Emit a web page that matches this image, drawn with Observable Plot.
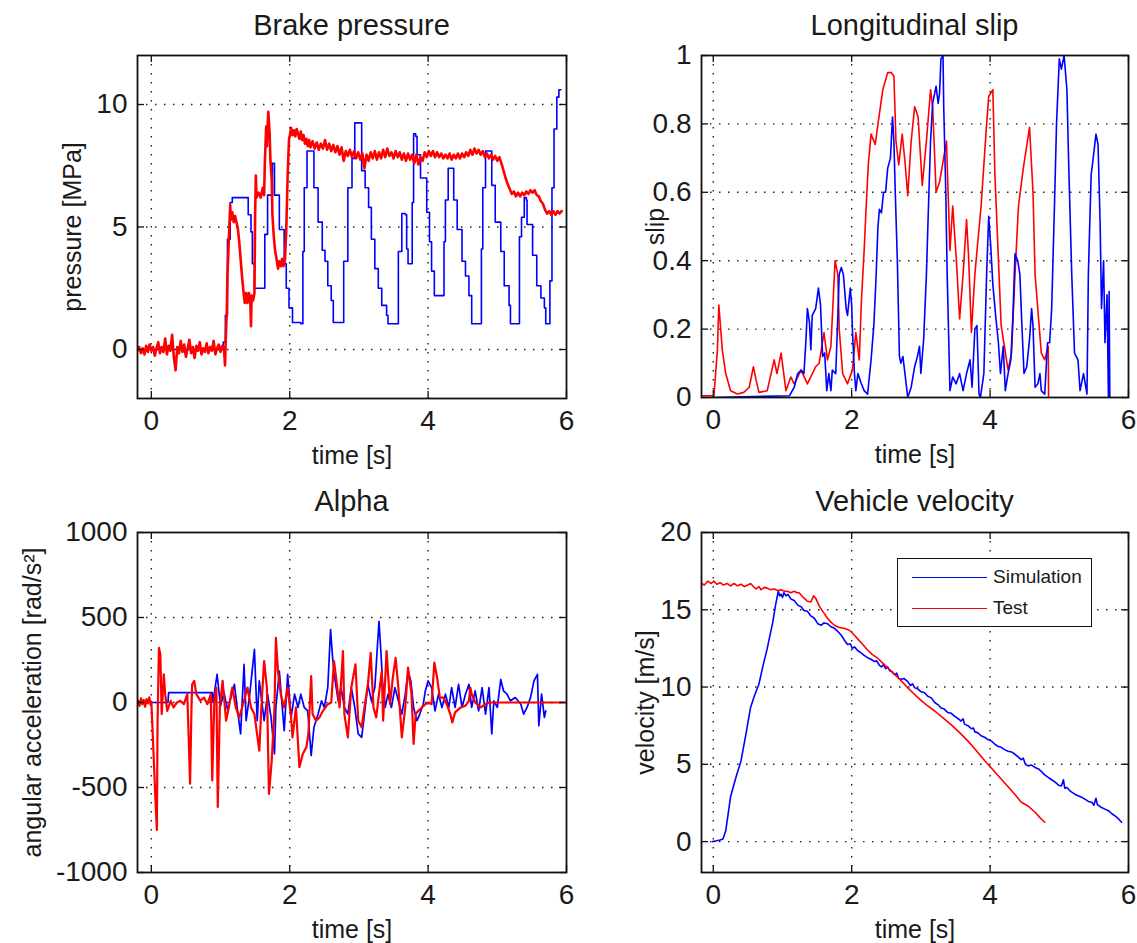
<!DOCTYPE html>
<html><head><meta charset="utf-8">
<script src="https://cdn.jsdelivr.net/npm/d3@7"></script>
<script src="https://cdn.jsdelivr.net/npm/@observablehq/plot@0.6"></script>
<style>
body{margin:0;background:#fff;width:1137px;height:943px;position:relative;overflow:hidden;font-family:Arial,"Liberation Sans",sans-serif;color:#1a1a1a}
.panel{position:absolute}
.title{position:absolute;font-size:29px;line-height:29px;white-space:nowrap;transform:translateX(-50%)}
.legend{position:absolute;left:897px;top:558px;width:193px;height:67px;border:1.8px solid #111;background:#fff}
.legend .ln{position:absolute;left:14px;width:75px;height:0;border-top:1.6px solid}
.legend .lt{position:absolute;left:95px;font-size:19px;line-height:19px}
</style>
</head><body>
<script>
// ---------- tick values ----------
const timeTicks = [0, 2, 4, 6];
const pressureTicks = [0, 5, 10];
const slipTicks = [0, 0.2, 0.4, 0.6, 0.8, 1];
const alphaTicks = [-1000, -500, 0, 500, 1000];
const velocityTicks = [0, 5, 10, 15, 20];
const seriesNames = ["Simulation", "Test"];

// ---------- Brake pressure [MPa] ----------
const brakeSim = [[0,0],[1.00,0],[1.04,0.3],[1.07,1.4],[1.09,1.4],[1.10,4.5],[1.14,6.0],[1.17,6.2],[1.38,6.2],[1.40,5.5],[1.44,4.8],[1.46,3.5],[1.49,2.5],[1.63,2.5],[1.64,4.7],[1.68,6.3],[1.70,6.3],[1.75,7.6],[1.78,6.3],[1.85,4.9],[1.92,3.5],[1.95,2.5],[1.99,1.7],[2.04,1.1],[2.16,1.05],[2.19,4.0],[2.21,6.6],[2.25,8.1],[2.33,8.1],[2.35,6.6],[2.41,5.2],[2.47,4.05],[2.51,3.6],[2.55,2.6],[2.60,2.0],[2.63,1.1],[2.77,1.1],[2.78,3.6],[2.84,6.6],[2.90,7.8],[2.94,9.25],[3.02,9.25],[3.04,7.3],[3.09,6.6],[3.14,5.8],[3.18,4.5],[3.23,3.3],[3.28,2.5],[3.33,1.8],[3.40,1.4],[3.42,1.05],[3.56,1.05],[3.57,4.0],[3.62,5.55],[3.67,5.5],[3.69,4.1],[3.71,3.5],[3.76,3.5],[3.77,6.0],[3.79,8.8],[3.82,8.7],[3.84,7.95],[3.89,7.0],[3.98,5.6],[4.02,4.4],[4.05,3.2],[4.09,2.2],[4.22,2.2],[4.23,4.4],[4.25,6.1],[4.29,7.4],[4.35,7.4],[4.37,6.1],[4.42,4.9],[4.49,3.6],[4.54,3.0],[4.59,2.2],[4.63,1.05],[4.76,1.05],[4.77,4.1],[4.79,6.6],[4.83,8.1],[4.90,8.1],[4.92,6.7],[4.97,5.2],[5.05,4.0],[5.10,2.6],[5.17,1.8],[5.19,1.05],[5.31,1.05],[5.32,4.6],[5.35,5.4],[5.39,6.2],[5.42,6.1],[5.43,5.1],[5.51,3.85],[5.57,2.6],[5.63,2.1],[5.68,1.7],[5.70,1.05],[5.75,1.05],[5.76,2.8],[5.79,6.6],[5.82,9.0],[5.86,10.3],[5.89,10.6],[5.92,10.6]];
const brakeTest = [[-0.2,-0.05],[-0.175,0.10],[-0.15,-0.15],[-0.125,0.05],[-0.1,-0.20],[-0.075,0.15],[-0.05,-0.10],[-0.025,0.20],[0,-0.05],[0.025,0.10],[0.05,-0.25],[0.075,0.05],[0.1,0.30],[0.125,-0.15],[0.15,0.10],[0.175,-0.10],[0.2,0.45],[0.225,-0.20],[0.25,0.15],[0.275,-0.05],[0.3,0.60],[0.325,-0.30],[0.35,-0.85],[0.375,0.10],[0.4,-0.15],[0.425,0.35],[0.45,-0.10],[0.475,0.20],[0.5,-0.30],[0.525,0.05],[0.55,0.40],[0.575,-0.15],[0.6,0.10],[0.625,-0.35],[0.65,0.15],[0.675,-0.05],[0.7,0.30],[0.725,-0.20],[0.75,0.05],[0.775,-0.10],[0.8,0.25],[0.825,-0.15],[0.85,0.10],[0.875,-0.05],[0.9,0.35],[0.925,-0.20],[0.95,0.05],[0.975,0.20],[1.0,-0.10],[1.025,0.15],[1.05,0.05],[1.065,-0.65],[1.075,0.4],[1.09,1.5],[1.10,3.0],[1.12,4.5],[1.14,5.9],[1.15,5.3],[1.17,5.6],[1.19,5.2],[1.21,5.45],[1.23,5.2],[1.25,4.95],[1.27,4.4],[1.29,3.7],[1.31,3.0],[1.33,2.4],[1.35,1.9],[1.37,2.3],[1.39,1.9],[1.41,2.3],[1.43,2.0],[1.44,0.95],[1.45,2.2],[1.47,2.0],[1.49,2.3],[1.50,5.5],[1.51,7.1],[1.52,6.2],[1.55,6.4],[1.58,6.2],[1.61,6.6],[1.63,6.3],[1.64,7.6],[1.66,9.1],[1.67,8.3],[1.69,9.7],[1.71,8.8],[1.72,7.8],[1.74,6.9],[1.75,5.5],[1.77,4.6],[1.79,4.0],[1.81,3.7],[1.83,3.3],[1.85,3.6],[1.87,3.4],[1.89,3.7],[1.91,3.4],[1.93,3.6],[1.95,4.9],[1.97,7.1],[1.99,8.6],[2.00,8.70],[2.02,9.05],[2.04,8.75],[2.06,8.95],[2.08,8.70],[2.10,9.00],[2.12,8.80],[2.14,8.60],[2.16,8.90],[2.18,8.55],[2.20,8.75],[2.22,8.40],[2.24,8.60],[2.26,8.30],[2.28,8.55],[2.30,8.25],[2.33,8.50],[2.36,8.20],[2.39,8.45],[2.42,8.15],[2.45,8.40],[2.48,8.20],[2.51,8.55],[2.54,8.15],[2.57,8.40],[2.60,8.10],[2.63,8.35],[2.66,8.05],[2.69,8.30],[2.72,7.95],[2.75,8.25],[2.78,7.70],[2.81,8.10],[2.84,7.90],[2.87,8.15],[2.90,7.85],[2.93,8.10],[2.96,7.80],[2.99,8.05],[3.02,7.75],[3.05,8.00],[3.08,7.40],[3.11,7.95],[3.14,7.70],[3.17,8.05],[3.20,7.80],[3.23,8.10],[3.26,7.75],[3.29,8.05],[3.32,7.80],[3.35,8.15],[3.38,7.85],[3.41,8.20],[3.44,7.90],[3.47,8.05],[3.50,7.80],[3.53,8.10],[3.56,7.85],[3.59,8.05],[3.62,7.75],[3.65,8.00],[3.68,7.70],[3.71,8.00],[3.74,7.75],[3.77,7.95],[3.80,7.60],[3.83,7.95],[3.86,7.55],[3.89,7.85],[3.92,7.70],[3.95,8.05],[3.98,7.85],[4.01,8.10],[4.04,7.90],[4.07,8.10],[4.10,7.85],[4.13,8.05],[4.16,7.85],[4.19,8.00],[4.22,7.80],[4.25,7.95],[4.28,7.80],[4.31,8.00],[4.34,7.75],[4.37,7.95],[4.40,7.80],[4.43,8.00],[4.46,7.80],[4.49,8.00],[4.52,7.85],[4.55,8.05],[4.58,7.90],[4.61,8.15],[4.64,7.95],[4.67,8.20],[4.70,8.00],[4.73,8.15],[4.76,7.95],[4.79,8.10],[4.82,7.85],[4.85,8.00],[4.88,7.80],[4.91,7.95],[4.94,7.75],[4.97,7.90],[5.00,7.70],[5.03,7.85],[5.06,7.60],[5.09,7.30],[5.12,7.00],[5.15,6.75],[5.18,6.55],[5.21,6.35],[5.24,6.45],[5.27,6.25],[5.30,6.40],[5.33,6.25],[5.36,6.40],[5.39,6.30],[5.42,6.45],[5.45,6.35],[5.48,6.50],[5.51,6.40],[5.54,6.50],[5.57,6.30],[5.60,6.25],[5.63,6.05],[5.66,5.95],[5.69,5.70],[5.72,5.55],[5.75,5.65],[5.78,5.50],[5.81,5.65],[5.84,5.50],[5.87,5.65],[5.90,5.55],[5.93,5.65]];

// ---------- Longitudinal slip [-] ----------
const slipTest = [[-0.18,0.005],[0.01,0.005],[0.06,0.14],[0.08,0.27],[0.10,0.22],[0.13,0.14],[0.18,0.07],[0.25,0.02],[0.35,0.01],[0.44,0.015],[0.52,0.03],[0.58,0.09],[0.62,0.05],[0.66,0.015],[0.78,0.02],[0.88,0.11],[0.92,0.07],[0.98,0.13],[1.05,0.02],[1.12,0.06],[1.17,0.04],[1.27,0.08],[1.36,0.04],[1.48,0.09],[1.53,0.10],[1.60,0.19],[1.65,0.11],[1.70,0.15],[1.76,0.40],[1.80,0.36],[1.82,0.20],[1.87,0.07],[1.94,0.04],[2.01,0.08],[2.06,0.19],[2.11,0.11],[2.14,0.28],[2.18,0.43],[2.21,0.56],[2.24,0.68],[2.28,0.77],[2.34,0.74],[2.38,0.80],[2.45,0.90],[2.52,0.95],[2.57,0.95],[2.61,0.94],[2.64,0.75],[2.68,0.68],[2.73,0.77],[2.77,0.69],[2.81,0.59],[2.86,0.75],[2.91,0.85],[2.96,0.82],[3.02,0.62],[3.08,0.75],[3.14,0.90],[3.17,0.85],[3.22,0.60],[3.27,0.63],[3.37,0.75],[3.42,0.43],[3.46,0.56],[3.51,0.41],[3.56,0.23],[3.61,0.36],[3.66,0.52],[3.69,0.41],[3.73,0.19],[3.78,0.36],[3.87,0.56],[3.95,0.80],[3.98,0.88],[4.04,0.90],[4.07,0.65],[4.16,0.21],[4.26,0.08],[4.31,0.13],[4.36,0.36],[4.41,0.56],[4.48,0.67],[4.57,0.79],[4.62,0.60],[4.65,0.36],[4.74,0.13],[4.79,0.11],[4.84,0.15],[4.845,0]];
const slipSim = [[0,0],[1.10,0.005],[1.17,0.03],[1.22,0.07],[1.27,0.08],[1.31,0.07],[1.34,0.17],[1.36,0.26],[1.39,0.22],[1.41,0.14],[1.43,0.24],[1.48,0.26],[1.52,0.32],[1.55,0.27],[1.58,0.12],[1.61,0.13],[1.64,0.02],[1.67,0.07],[1.70,0.02],[1.72,0.08],[1.77,0.07],[1.80,0.24],[1.82,0.36],[1.85,0.38],[1.88,0.36],[1.92,0.26],[1.94,0.24],[1.98,0.32],[2.00,0.27],[2.01,0.20],[2.04,0.07],[2.06,0.02],[2.09,0.07],[2.14,0.04],[2.18,0.02],[2.23,0.01],[2.28,0.11],[2.32,0.21],[2.35,0.34],[2.38,0.50],[2.40,0.55],[2.43,0.54],[2.46,0.60],[2.49,0.60],[2.52,0.67],[2.56,0.70],[2.59,0.82],[2.61,0.75],[2.63,0.60],[2.66,0.40],[2.69,0.12],[2.71,0.10],[2.74,0.12],[2.77,0.07],[2.81,0],[2.86,0.03],[2.91,0.09],[2.95,0.12],[2.98,0.15],[3.00,0.07],[3.04,0.17],[3.08,0.36],[3.11,0.56],[3.14,0.75],[3.17,0.86],[3.20,0.89],[3.22,0.91],[3.25,0.86],[3.27,0.89],[3.29,0.99],[3.32,1.0],[3.33,0.85],[3.36,0.60],[3.38,0.36],[3.42,0.02],[3.46,0.06],[3.51,0.04],[3.56,0.07],[3.61,0.02],[3.66,0.07],[3.71,0.11],[3.74,0.03],[3.78,0.20],[3.81,0.21],[3.84,0.01],[3.86,0],[3.91,0.07],[3.95,0.36],[3.98,0.53],[4.01,0.44],[4.04,0.33],[4.08,0.24],[4.12,0.16],[4.15,0.07],[4.19,0.15],[4.22,0.02],[4.26,0.07],[4.30,0.11],[4.33,0.24],[4.36,0.42],[4.40,0.40],[4.43,0.36],[4.46,0.21],[4.49,0.07],[4.53,0.09],[4.57,0.17],[4.60,0.26],[4.62,0.21],[4.65,0.03],[4.69,0.04],[4.72,0.07],[4.74,0.02],[4.79,0.01],[4.83,0.16],[4.86,0.16],[4.89,0.26],[4.93,0.56],[4.96,0.80],[5.00,0.99],[5.03,0.96],[5.07,1.0],[5.11,0.90],[5.14,0.65],[5.18,0.36],[5.22,0.13],[5.27,0.11],[5.30,0.02],[5.35,0.07],[5.40,0.01],[5.42,0.36],[5.46,0.65],[5.49,0.70],[5.53,0.77],[5.56,0.74],[5.59,0.51],[5.61,0.26],[5.64,0.40],[5.66,0.16],[5.69,0.30],[5.71,0],[5.72,0.31],[5.73,0]];

// ---------- Alpha: angular acceleration [rad/s^2] ----------
const alphaSim = [[0,0],[0.24,0],[0.25,58],[0.88,58],[0.89,0],[0.95,166],[1.00,-20],[1.05,60],[1.10,-40],[1.15,30],[1.20,107],[1.25,-60],[1.29,-185],[1.34,224],[1.37,-107],[1.42,40],[1.49,312],[1.53,-107],[1.56,127],[1.63,-107],[1.68,49],[1.73,-88],[1.78,-302],[1.80,-29],[1.85,185],[1.92,-166],[1.97,166],[2.02,-88],[2.07,49],[2.12,-29],[2.16,49],[2.21,-29],[2.26,-49],[2.31,-312],[2.35,-146],[2.41,-68],[2.46,10],[2.50,-29],[2.55,88],[2.59,429],[2.62,263],[2.65,146],[2.70,10],[2.74,88],[2.79,-29],[2.84,-68],[2.89,88],[2.94,-29],[2.99,-185],[3.04,-205],[3.08,-68],[3.13,107],[3.18,10],[3.23,88],[3.29,478],[3.32,283],[3.34,127],[3.38,-29],[3.42,49],[3.47,-29],[3.52,88],[3.57,10],[3.62,-68],[3.67,49],[3.71,185],[3.75,127],[3.79,-29],[3.84,-107],[3.88,-68],[3.93,-10],[3.96,68],[4.00,127],[4.05,88],[4.10,-49],[4.15,49],[4.20,-29],[4.25,49],[4.30,-29],[4.34,88],[4.39,-29],[4.44,107],[4.49,-29],[4.54,49],[4.59,107],[4.63,-29],[4.68,68],[4.73,-49],[4.78,88],[4.83,-68],[4.88,88],[4.92,-185],[4.95,10],[5.00,-29],[5.05,136],[5.09,68],[5.14,49],[5.19,10],[5.26,29],[5.34,-10],[5.38,-68],[5.43,-29],[5.48,29],[5.53,127],[5.58,166],[5.60,-137],[5.64,49],[5.68,-88],[5.70,-49]];
const alphaTest = [[-0.19,10],[-0.17,-20],[-0.15,25],[-0.13,-10],[-0.11,15],[-0.09,-25],[-0.07,20],[-0.05,-5],[-0.03,30],[-0.01,-15],[0.0,5],[0.01,-88],[0.06,-575],[0.08,-750],[0.09,-107],[0.11,322],[0.13,283],[0.15,-68],[0.18,166],[0.20,49],[0.23,-49],[0.28,10],[0.32,-29],[0.37,0],[0.42,10],[0.47,-10],[0.52,49],[0.56,-478],[0.58,-29],[0.59,107],[0.62,127],[0.65,49],[0.71,10],[0.76,29],[0.81,-10],[0.86,49],[0.88,-458],[0.91,10],[0.94,88],[0.96,-614],[0.99,-29],[1.03,127],[1.08,-107],[1.12,-29],[1.17,88],[1.22,-29],[1.27,-88],[1.34,10],[1.39,88],[1.44,-29],[1.49,-68],[1.56,-283],[1.59,-29],[1.63,244],[1.67,88],[1.70,-537],[1.74,-341],[1.78,-29],[1.80,380],[1.83,185],[1.87,49],[1.92,-29],[1.97,88],[2.02,-88],[2.04,-205],[2.09,-29],[2.14,-380],[2.19,-302],[2.24,-263],[2.27,-185],[2.31,156],[2.33,-68],[2.38,-107],[2.43,-88],[2.48,-49],[2.55,-10],[2.60,0],[2.64,244],[2.67,146],[2.72,-29],[2.77,302],[2.79,-68],[2.84,-205],[2.89,88],[2.95,224],[2.99,-107],[3.04,-146],[3.08,-29],[3.13,107],[3.17,292],[3.21,-29],[3.25,-88],[3.29,49],[3.33,185],[3.35,-107],[3.40,302],[3.45,-10],[3.49,146],[3.53,263],[3.57,88],[3.62,-205],[3.67,-29],[3.71,205],[3.76,49],[3.79,-244],[3.82,-68],[3.86,-49],[3.91,-29],[3.96,-10],[4.00,0],[4.05,-10],[4.09,234],[4.13,146],[4.17,29],[4.22,29],[4.27,-10],[4.32,-68],[4.35,-117],[4.39,-58],[4.47,-29],[4.54,-19],[4.59,10],[4.61,88],[4.63,49],[4.68,0],[4.76,-29],[4.83,-10],[4.88,0],[6.0,0]];

// ---------- Vehicle velocity [m/s] ----------
const velocitySim = [[-0.01,0],[0.05,0.05],[0.10,0.1],[0.14,0.17],[0.18,0.7],[0.25,2.9],[0.33,4.2],[0.40,5.2],[0.47,6.9],[0.54,8.7],[0.60,9.5],[0.66,10.2],[0.72,11.4],[0.78,12.5],[0.86,14.2],[0.90,15.3],[0.94,16.2],[0.96,15.9],[0.98,16.0],[1.00,15.8],[1.02,16.1],[1.05,15.9],[1.08,16.0],[1.12,15.7],[1.17,15.6],[1.22,15.3],[1.27,15.2],[1.31,14.95],[1.36,14.9],[1.41,14.6],[1.46,14.45],[1.51,14.1],[1.56,14.0],[1.60,14.15],[1.65,14.1],[1.70,13.9],[1.75,13.8],[1.80,13.6],[1.85,13.35],[1.90,13.0],[1.94,12.75],[1.98,12.8],[2.01,12.5],[2.04,12.6],[2.09,12.35],[2.14,12.2],[2.18,12.05],[2.23,11.9],[2.28,11.8],[2.33,11.65],[2.36,11.7],[2.40,11.4],[2.43,11.3],[2.46,11.45],[2.49,11.2],[2.52,11.3],[2.55,11.05],[2.58,11.0],[2.62,10.8],[2.65,10.9],[2.68,10.55],[2.72,10.5],[2.76,10.55],[2.81,10.35],[2.85,10.1],[2.88,10.2],[2.91,9.95],[2.95,9.9],[3.00,9.7],[3.05,9.65],[3.10,9.4],[3.15,9.3],[3.20,9.0],[3.25,8.85],[3.29,8.65],[3.33,8.6],[3.39,8.35],[3.44,8.3],[3.49,8.1],[3.54,7.95],[3.58,7.8],[3.61,7.95],[3.63,7.6],[3.68,7.5],[3.73,7.3],[3.76,7.35],[3.78,7.1],[3.82,7.05],[3.87,6.85],[3.92,6.75],[3.97,6.6],[4.02,6.5],[4.07,6.3],[4.12,6.15],[4.16,6.1],[4.21,5.95],[4.26,5.85],[4.31,5.8],[4.36,5.65],[4.40,5.5],[4.45,5.3],[4.48,5.4],[4.51,5.0],[4.55,4.9],[4.60,4.95],[4.65,4.8],[4.70,4.7],[4.74,4.55],[4.78,4.35],[4.84,4.15],[4.89,4.0],[4.94,3.85],[4.99,3.65],[5.03,3.6],[5.06,4.0],[5.08,3.45],[5.11,3.5],[5.15,3.3],[5.18,3.2],[5.23,3.05],[5.28,2.95],[5.33,2.85],[5.37,2.75],[5.42,2.6],[5.47,2.55],[5.50,2.35],[5.53,2.8],[5.55,2.4],[5.58,2.3],[5.61,2.2],[5.66,2.1],[5.71,2.0],[5.76,1.8],[5.81,1.65],[5.86,1.45],[5.90,1.25]];
const velocityTest = [[-0.18,16.75],[-0.13,16.6],[-0.08,16.85],[-0.03,16.7],[0.01,16.85],[0.05,16.65],[0.10,16.75],[0.15,16.6],[0.20,16.7],[0.25,16.55],[0.30,16.7],[0.35,16.55],[0.40,16.65],[0.45,16.5],[0.50,16.6],[0.54,16.7],[0.58,16.5],[0.62,16.35],[0.66,16.5],[0.69,16.3],[0.74,16.45],[0.78,16.4],[0.83,16.3],[0.88,16.35],[0.93,16.25],[0.98,16.3],[1.03,16.2],[1.07,16.2],[1.12,16.1],[1.17,16.2],[1.21,16.1],[1.24,16.1],[1.30,15.8],[1.36,15.55],[1.41,15.5],[1.45,15.9],[1.48,15.75],[1.53,15.25],[1.59,14.85],[1.65,14.45],[1.70,14.2],[1.75,14.0],[1.82,13.85],[1.89,13.8],[1.95,13.7],[1.99,13.6],[2.04,13.35],[2.09,13.1],[2.16,12.75],[2.23,12.4],[2.30,12.1],[2.38,11.85],[2.45,11.55],[2.52,11.25],[2.59,10.95],[2.67,10.6],[2.74,10.3],[2.81,9.95],[2.88,9.65],[2.96,9.3],[3.08,8.85],[3.20,8.45],[3.32,8.0],[3.44,7.55],[3.56,7.05],[3.68,6.5],[3.80,5.9],[3.92,5.25],[4.04,4.65],[4.16,4.05],[4.26,3.55],[4.36,3.05],[4.45,2.55],[4.55,2.3],[4.65,1.9],[4.72,1.55],[4.79,1.25]];

const BLUE = "#0000ff", RED = "#ff0000";

function makePanel(o) {
  const fw = o.width - o.ml - o.mr, fh = o.height - o.mt - o.mb;
  const inside = (ticks, dom) => ticks.filter(v => v > dom[0] + 1e-9 && v < dom[1] - 1e-9);
  const grid = {stroke: "#222", strokeWidth: 1.4, strokeDasharray: "1.5,7.5"};
  const tk = {stroke: "#111", strokeWidth: 1.3};
  const fmt = d => String(d);
  const chart = Plot.plot({
    width: o.width, height: o.height,
    marginLeft: o.ml, marginRight: o.mr, marginTop: o.mt, marginBottom: o.mb,
    style: {fontFamily: "Arial, 'Liberation Sans', sans-serif", color: "#1a1a1a", background: "transparent", overflow: "visible"},
    x: {domain: o.xdomain},
    y: {domain: o.ydomain},
    marks: [
      Plot.ruleY(inside(o.yticks, o.ydomain), grid),
      Plot.ruleX(inside(timeTicks, o.xdomain), grid),
      ...o.series.map(s => Plot.line(s.data, {x: d => d[0], y: d => d[1], stroke: s.color, strokeWidth: s.width, curve: s.curve || "linear", clip: true})),
      Plot.ruleX(timeTicks, {...tk, insetTop: fh - 7}),
      Plot.ruleX(timeTicks, {...tk, insetBottom: fh - 7}),
      Plot.ruleY(o.yticks, {...tk, insetRight: fw - 7}),
      Plot.ruleY(o.yticks, {...tk, insetLeft: fw - 7}),
      Plot.frame({stroke: "#111", strokeWidth: 1.8}),
      Plot.axisX(timeTicks, {tickSize: 0, tickPadding: 12, fontSize: 28, tickFormat: fmt, label: null}),
      Plot.axisY(o.yticks, {tickSize: 0, tickPadding: 10, fontSize: 28, tickFormat: fmt, label: null}),
      Plot.text([o.xlabel], {text: d => d, frameAnchor: "bottom", textAnchor: "middle", dy: 65, fontSize: 25, fill: "#1a1a1a"}),
      Plot.text([o.ylabel], {text: d => d, frameAnchor: "left", textAnchor: "middle", dx: o.ylabelDx, rotate: -90, fontSize: 25, fill: "#1a1a1a"})
    ]
  });
  const wrap = document.createElement("div");
  wrap.className = "panel";
  wrap.style.left = o.left + "px";
  wrap.style.top = o.top + "px";
  wrap.appendChild(chart);
  document.body.appendChild(wrap);
  const t = document.createElement("div");
  t.className = "title";
  t.textContent = o.title;
  t.style.left = (o.left + o.ml + fw / 2) + "px";
  t.style.top = o.titleTop + "px";
  document.body.appendChild(t);
}

makePanel({title: "Brake pressure", left: 0, top: 40, width: 570, height: 440, ml: 137, mr: 4, mt: 15, mb: 82, titleTop: 11,
  xdomain: [-0.2, 6], ydomain: [-2, 12], yticks: pressureTicks, xlabel: "time [s]", ylabel: "pressure [MPa]", ylabelDx: -65,
  series: [{data: brakeSim, color: BLUE, width: 1.6, curve: "step-after"}, {data: brakeTest, color: RED, width: 2.6}]});
makePanel({title: "Longitudinal slip", left: 570, top: 40, width: 567, height: 440, ml: 131, mr: 9, mt: 15, mb: 83, titleTop: 11,
  xdomain: [-0.17, 6], ydomain: [0, 1], yticks: slipTicks, xlabel: "time [s]", ylabel: "slip", ylabelDx: -46,
  series: [{data: slipTest, color: RED, width: 1.6}, {data: slipSim, color: BLUE, width: 1.6}]});
makePanel({title: "Alpha", left: 0, top: 480, width: 570, height: 463, ml: 137, mr: 4, mt: 52, mb: 71, titleTop: 487,
  xdomain: [-0.2, 6], ydomain: [-1000, 1000], yticks: alphaTicks, xlabel: "time [s]", ylabel: "angular acceleration [rad/s²]", ylabelDx: -105,
  series: [{data: alphaSim, color: BLUE, width: 1.7}, {data: alphaTest, color: RED, width: 2.2}]});
makePanel({title: "Vehicle velocity", left: 570, top: 480, width: 567, height: 463, ml: 131, mr: 9, mt: 52, mb: 71, titleTop: 487,
  xdomain: [-0.17, 6], ydomain: [-2, 20], yticks: velocityTicks, xlabel: "time [s]", ylabel: "velocity [m/s]", ylabelDx: -56,
  series: [{data: velocitySim, color: BLUE, width: 1.6}, {data: velocityTest, color: RED, width: 1.6}]});

// legend
const lg = document.createElement("div");
lg.className = "legend";
[BLUE, RED].forEach((c, i) => {
  const ln = document.createElement("div");
  ln.className = "ln"; ln.style.borderTopColor = c; ln.style.top = (18 + i * 31) + "px";
  const lt = document.createElement("div");
  lt.className = "lt"; lt.textContent = seriesNames[i]; lt.style.top = (8 + i * 31) + "px";
  lg.appendChild(ln); lg.appendChild(lt);
});
document.body.appendChild(lg);
</script>
</body></html>
